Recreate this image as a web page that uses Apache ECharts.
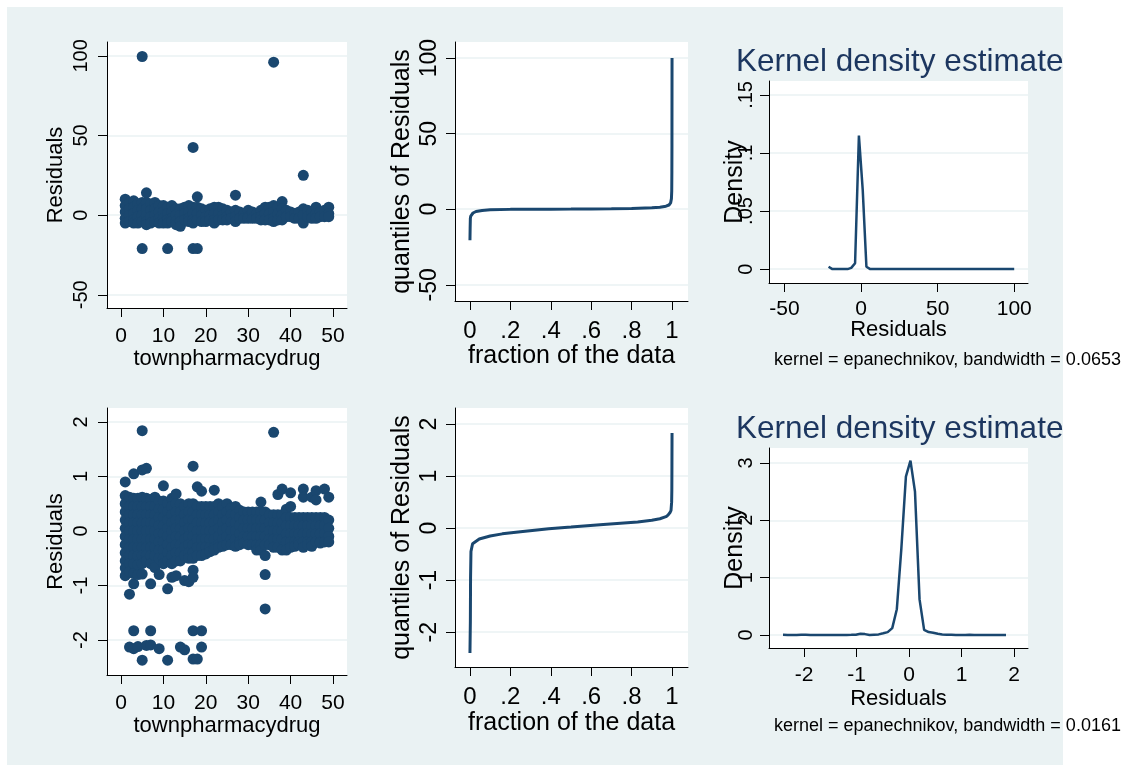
<!DOCTYPE html>
<html>
<head>
<meta charset="utf-8">
<script src="https://cdn.jsdelivr.net/npm/echarts@6/dist/echarts.min.js"></script>
<style>
  html, body { margin: 0; padding: 0; background: #ffffff; }
  #chart { width: 1125px; height: 771px; }
</style>
</head>
<body>
<div id="chart"></div>
<script>
// ---------- data ----------
// town identifiers (x of the residual-vs-town scatter plots)
const towns = [1,2,3,4,5,6,7,8,9,10,11,12,13,14,15,16,17,18,19,20,21,22,23,24,25,
  26,27,28,29,30,31,32,33,34,35,36,37,38,39,40,41,42,43,44,45,46,47,48,49];

// residuals per town, levels model
const residLevels = [
  [10, 6, 2, -2, -5], [8, 4, 0, -4], [9, 5, 1, -3, -5], [7, 3, -1, -5],
  [99.6, 8, 4, 0, -4, -21], [14, 8, 4, 0, -4, -6], [7, 3, -1, -5], [8, 4, 0, -4],
  [6, 2, -2, -5], [6, 2, -2, -5], [5, 1, -3, -5, -21], [6, 2, -2, -4],
  [4, 0, -4, -6], [4, 0, -4, -7], [5, 1, -3], [6, 2, -2, -4],
  [42.5, 5, 1, -3, -5, -21], [11.5, 5, 1, -3, -21], [4, 0, -4], [3, -1, -4],
  [4, 0, -3], [5, 1, -3, -5], [5, 1, -3], [4, 0, -3], [3, -1, -3],
  [2, -2], [12.5, 3, -1, -4], [2, -2], [1, -2], [3, -1, -2],
  [2, -2], [1, -2], [3, -1, -3], [5, 1, -3], [5, 1, -3],
  [96, 6, 2, -2, -4], [5, 1, -3], [8.5, 4, 0, -3], [3, -1], [2, -1],
  [1, -2], [2, -2], [25, 4, 0, -5], [3, -1], [2, -2],
  [5, 1, -2], [2, -1], [3, -1], [5, 1, -1]
];

// residuals per town, log model
const residLogs = [
  [0.9, 0.65, 0.5, 0.35, 0.2, 0.05, -0.1, -0.25, -0.4, -0.55, -0.68, -0.82],
  [0.62, 0.45, 0.3, 0.15, 0, -0.15, -0.3, -0.45, -0.6, -0.75, -1.16, -2.13],
  [1.05, 0.6, 0.45, 0.3, 0.15, 0, -0.15, -0.3, -0.45, -0.6, -0.78, -0.97, -1.83, -2.16],
  [0.6, 0.45, 0.3, 0.15, 0, -0.15, -0.3, -0.45, -0.62, -0.8, -2.12],
  [1.84, 1.12, 0.62, 0.45, 0.3, 0.15, 0, -0.15, -0.3, -0.45, -0.6, -0.79, -2.37],
  [1.15, 0.6, 0.45, 0.3, 0.15, 0, -0.15, -0.3, -0.45, -0.55, -2.1],
  [0.58, 0.45, 0.3, 0.15, 0, -0.15, -0.3, -0.45, -0.6, -0.97, -1.83, -2.09],
  [0.62, 0.45, 0.3, 0.15, 0, -0.15, -0.3, -0.45, -0.67],
  [0.55, 0.4, 0.25, 0.1, -0.05, -0.2, -0.35, -0.5, -0.8, -2.16],
  [0.83, 0.55, 0.4, 0.25, 0.1, -0.05, -0.2, -0.35, -0.5, -0.6],
  [0.5, 0.35, 0.2, 0.05, -0.1, -0.25, -0.4, -0.55, -1.06, -2.37],
  [0.6, 0.45, 0.3, 0.15, 0, -0.15, -0.3, -0.45, -0.6, -0.85],
  [0.68, 0.5, 0.35, 0.2, 0.05, -0.1, -0.25, -0.4, -0.55, -0.82],
  [0.5, 0.35, 0.2, 0.05, -0.1, -0.25, -0.4, -0.55, -2.13],
  [0.45, 0.3, 0.15, 0, -0.15, -0.3, -0.45, -0.91, -2.18],
  [0.5, 0.35, 0.2, 0.05, -0.1, -0.25, -0.4, -0.5, -0.93],
  [1.19, 0.5, 0.35, 0.2, 0.05, -0.1, -0.25, -0.4, -0.5, -0.72, -0.85, -1.83, -2.35],
  [0.81, 0.45, 0.3, 0.15, 0, -0.15, -0.3, -0.45, -2.35],
  [0.73, 0.45, 0.3, 0.15, 0, -0.15, -0.3, -0.45, -1.83, -2.13],
  [0.45, 0.3, 0.15, 0, -0.15, -0.3, -0.42],
  [0.45, 0.3, 0.15, 0, -0.15, -0.3, -0.38],
  [0.75, 0.45, 0.3, 0.15, 0, -0.15, -0.3, -0.35],
  [0.5, 0.35, 0.2, 0.05, -0.1, -0.25, -0.3],
  [0.45, 0.3, 0.15, 0, -0.15, -0.28],
  [0.5, 0.35, 0.2, 0.05, -0.1, -0.25],
  [0.42, 0.3, 0.15, 0, -0.15, -0.25],
  [0.45, 0.3, 0.15, 0, -0.15, -0.28],
  [0.38, 0.25, 0.1, -0.05, -0.2, -0.25],
  [0.35, 0.2, 0.05, -0.1, -0.22],
  [0.35, 0.2, 0.05, -0.1, -0.25],
  [0.35, 0.2, 0.05, -0.1, -0.25],
  [0.35, 0.2, 0.05, -0.1, -0.25, -0.35],
  [0.53, 0.35, 0.2, 0.05, -0.1, -0.25, -0.35],
  [0.35, 0.2, 0.05, -0.1, -0.25, -0.45, -0.8, -1.43],
  [0.3, 0.15, 0, -0.15, -0.25],
  [1.81, 0.3, 0.15, 0, -0.15, -0.3],
  [0.67, 0.3, 0.15, 0, -0.15, -0.3],
  [0.77, 0.3, 0.15, 0, -0.15, -0.35],
  [0.4, 0.25, 0.1, -0.05, -0.2, -0.35],
  [0.7, 0.45, 0.25, 0.1, -0.05, -0.2, -0.3],
  [0.25, 0.1, -0.05, -0.2, -0.28],
  [0.25, 0.1, -0.05, -0.2, -0.25],
  [0.77, 0.62, 0.25, 0.1, -0.05, -0.2, -0.3],
  [0.25, 0.1, -0.05, -0.2, -0.25],
  [0.62, 0.25, 0.1, -0.05, -0.2, -0.28],
  [0.74, 0.57, 0.25, 0.1, -0.05, -0.2],
  [0.25, 0.1, -0.05, -0.2, -0.22],
  [0.77, 0.25, 0.1, -0.05, -0.2],
  [0.62, 0.2, 0.05, -0.1, -0.2]
];

// quantile plots: fraction of the data vs sorted residual
const qLevelsFrac = [0, 0.0005, 0.001, 0.002, 0.004, 0.008, 0.015, 0.03, 0.06, 0.1, 0.2, 0.3, 0.4,
  0.5, 0.6, 0.7, 0.8, 0.9, 0.94, 0.97, 0.985, 0.993, 0.997, 0.9985, 0.9992, 0.9996, 1];
const qLevelsVal = [-20.5, -20.5, -12, -6, -4.5, -3.5, -2.5, -1.5, -0.8, -0.4, -0.1, 0, 0.05,
  0.1, 0.2, 0.3, 0.5, 0.9, 1.3, 2.0, 2.8, 4.2, 7, 12, 25, 43, 100];

const qLogsFrac = [0, 0.001, 0.002, 0.003, 0.005, 0.013, 0.046, 0.1, 0.16, 0.25, 0.39, 0.5,
  0.66, 0.83, 0.9, 0.94, 0.97, 0.98, 0.99, 0.995, 0.998, 0.999, 0.9995, 1];
const qLogsVal = [-2.4, -2.1, -1.8, -0.95, -0.45, -0.3, -0.21, -0.15, -0.11, -0.07, -0.01, 0.02,
  0.07, 0.12, 0.15, 0.18, 0.22, 0.25, 0.3, 0.34, 0.5, 0.73, 1.2, 1.83];

// kernel density estimates
const kdeLevelsX = [-21.2, -18.7, -16.3, -13.8, -11.3, -8.8, -6.4, -3.9, -1.4, 1.1, 3.5, 6.0, 100];
const kdeLevelsY = [0.002, 0, 0, 0, 0, 0, 0.001, 0.005, 0.115, 0.068, 0.002, 0, 0];

const kdeLogsX = [-2.400, -2.313, -2.227, -2.140, -2.053, -1.966, -1.880, -1.793, -1.706, -1.620,
  -1.533, -1.446, -1.359, -1.273, -1.186, -1.099, -1.013, -0.926, -0.839, -0.752,
  -0.666, -0.579, -0.492, -0.406, -0.319, -0.232, -0.146, -0.059, 0.028, 0.114,
  0.201, 0.288, 0.374, 0.461, 0.548, 0.634, 0.721, 0.808, 0.894, 0.981,
  1.068, 1.154, 1.241, 1.328, 1.414, 1.501, 1.588, 1.675, 1.761, 1.848];
const kdeLogsY = [0.002, 0.001, 0, 0, 0.003, 0.002, 0, 0, 0, 0,
  0, 0.001, 0, 0, 0, 0.002, 0.005, 0.02, 0.015, 0,
  0.005, 0.01, 0.03, 0.05, 0.12, 0.45, 1.5, 2.76, 3.04, 2.5,
  0.62, 0.09, 0.05, 0.04, 0.02, 0.01, 0.005, 0.003, 0, 0,
  0, 0.002, 0, 0, 0, 0, 0, 0, 0, 0.001];

// tick values and labels
const townTicks = [0, 10, 20, 30, 40, 50];
const townTickLabels = ['0', '10', '20', '30', '40', '50'];
const levelTicks = [-50, 0, 50, 100];
const levelTickLabels = ['-50', '0', '50', '100'];
const logTicks = [-2, -1, 0, 1, 2];
const logTickLabels = ['-2', '-1', '0', '1', '2'];
const fracTicks = [0, 0.2, 0.4, 0.6, 0.8, 1];
const fracTickLabels = ['0', '.2', '.4', '.6', '.8', '1'];
const densLevelTicks = [0, 0.05, 0.1, 0.15];
const densLevelTickLabels = ['0', '.05', '.1', '.15'];
const densLogTicks = [0, 1, 2, 3];
const densLogTickLabels = ['0', '1', '2', '3'];

const kdeTitle = 'Kernel density estimate';
const kdeNoteLevels = 'kernel = epanechnikov, bandwidth = 0.0653';
const kdeNoteLogs = 'kernel = epanechnikov, bandwidth = 0.0161';

// ---------- styling ----------
const NAVY = '#1a476f';
const PANEL_BG = '#eaf2f3';
const FONT = "'Liberation Sans', Arial, Helvetica, sans-serif";

function pairs(xs, ys) { return xs.map((x, i) => [x, ys[i]]); }
function townPoints(lists) {
  const pts = [];
  towns.forEach((t, i) => lists[i].forEach(v => pts.push([t, v])));
  return pts;
}
function labelFor(ticks, labels) {
  return v => {
    for (let i = 0; i < ticks.length; i++) if (Math.abs(ticks[i] - v) < 1e-9) return labels[i];
    return '';
  };
}

// x axis: s = { label font, label margin, name font, name gap }
function xAxis(gi, min, max, ticks, labels, name, s) {
  return {
    type: 'value', gridIndex: gi, min, max, position: 'bottom',
    name, nameLocation: 'middle', nameGap: s.gap, nameMoveOverlap: false,
    nameTextStyle: { fontFamily: FONT, fontSize: s.nameSize, color: '#000' },
    axisLine: { show: true, onZero: false, lineStyle: { color: '#000', width: 1 } },
    axisTick: { show: true, length: 9, customValues: ticks, lineStyle: { color: '#000', width: 1 } },
    axisLabel: { show: true, customValues: ticks, margin: s.margin, fontFamily: FONT, fontSize: s.size,
      color: '#000', formatter: labelFor(ticks, labels) },
    splitLine: { show: false }
  };
}
function yAxis(gi, min, max, ticks, labels, name, s) {
  return {
    type: 'value', gridIndex: gi, min, max, position: 'left',
    name, nameLocation: 'middle', nameGap: s.gap, nameMoveOverlap: false,
    nameTextStyle: { fontFamily: FONT, fontSize: s.nameSize, color: '#000' },
    axisLine: { show: true, onZero: false, lineStyle: { color: '#000', width: 1 } },
    axisTick: { show: true, length: 9, customValues: ticks, lineStyle: { color: '#000', width: 1 } },
    axisLabel: { show: true, customValues: ticks, rotate: 90, margin: s.margin, fontFamily: FONT,
      fontSize: s.size, color: '#000', formatter: labelFor(ticks, labels) },
    splitLine: { show: true, lineStyle: { color: PANEL_BG, width: 1.5 } }
  };
}
function gridBox(left, top, width, height) {
  return { left, top, width, height, show: true, backgroundColor: '#ffffff', borderWidth: 0 };
}
function titleText(text, left, top, size, color) {
  return { text, left, top, padding: 0,
    textStyle: { fontFamily: FONT, fontSize: size, fontWeight: 'normal', color } };
}

const option = {
  animation: false,
  textStyle: { fontFamily: FONT },
  graphic: [{
    type: 'rect', z: -100, silent: true,
    shape: { x: 7, y: 7, width: 1056, height: 758 },
    style: { fill: PANEL_BG }
  }],
  title: [
    titleText(kdeTitle, 736, 46, 31.5, '#1c365f'),
    titleText(kdeNoteLevels, 774, 351, 18, '#000'),
    titleText(kdeTitle, 736, 413, 31.5, '#1c365f'),
    titleText(kdeNoteLogs, 774, 717, 18, '#000')
  ],
  grid: [
    gridBox(107, 42, 240, 266),
    gridBox(455, 42, 233, 259),
    gridBox(769, 81, 259, 202),
    gridBox(107, 408, 240, 267),
    gridBox(455, 408, 233, 259),
    gridBox(769, 448, 259, 200)
  ],
  xAxis: [
    xAxis(0, -3.3, 53.3, townTicks, townTickLabels, 'townpharmacydrug', { size: 21, margin: 18, nameSize: 22, gap: 40 }),
    xAxis(1, -0.074, 1.079, fracTicks, fracTickLabels, 'fraction of the data', { size: 24, margin: 18, nameSize: 25, gap: 43 }),
    xAxis(2, -60.1, 109, [-50, 0, 50, 100], ['-50', '0', '50', '100'], 'Residuals', { size: 21, margin: 16, nameSize: 22, gap: 36 }),
    xAxis(3, -3.3, 53.3, townTicks, townTickLabels, 'townpharmacydrug', { size: 21, margin: 18, nameSize: 22, gap: 40 }),
    xAxis(4, -0.074, 1.079, fracTicks, fracTickLabels, 'fraction of the data', { size: 24, margin: 18, nameSize: 25, gap: 44 }),
    xAxis(5, -2.667, 2.267, logTicks, logTickLabels, 'Residuals', { size: 21, margin: 17, nameSize: 22, gap: 40 })
  ],
  yAxis: [
    yAxis(0, -58.3, 108.7, levelTicks, levelTickLabels, 'Residuals', { size: 20, margin: 16, nameSize: 22, gap: 40 }),
    yAxis(1, -60.7, 110.6, levelTicks, levelTickLabels, 'quantiles of Residuals', { size: 23, margin: 14, nameSize: 25, gap: 40 }),
    yAxis(2, -0.012, 0.162, densLevelTicks, densLevelTickLabels, 'Density', { size: 20, margin: 13, nameSize: 25, gap: 21 }),
    yAxis(3, -2.642, 2.257, logTicks, logTickLabels, 'Residuals', { size: 20, margin: 16, nameSize: 22, gap: 40 }),
    yAxis(4, -2.67, 2.31, logTicks, logTickLabels, 'quantiles of Residuals', { size: 23, margin: 14, nameSize: 25, gap: 40 }),
    yAxis(5, -0.227, 3.26, densLogTicks, densLogTickLabels, 'Density', { size: 20, margin: 13, nameSize: 25, gap: 21 })
  ],
  series: [
    { type: 'scatter', xAxisIndex: 0, yAxisIndex: 0, data: townPoints(residLevels),
      symbol: 'circle', symbolSize: 11, itemStyle: { color: NAVY, opacity: 1 }, silent: true },
    { type: 'line', xAxisIndex: 1, yAxisIndex: 1, data: pairs(qLevelsFrac, qLevelsVal),
      showSymbol: false, lineStyle: { color: NAVY, width: 3 }, silent: true },
    { type: 'line', xAxisIndex: 2, yAxisIndex: 2, data: pairs(kdeLevelsX, kdeLevelsY),
      showSymbol: false, lineStyle: { color: NAVY, width: 2.5 }, silent: true },
    { type: 'scatter', xAxisIndex: 3, yAxisIndex: 3, data: townPoints(residLogs),
      symbol: 'circle', symbolSize: 11, itemStyle: { color: NAVY, opacity: 1 }, silent: true },
    { type: 'line', xAxisIndex: 4, yAxisIndex: 4, data: pairs(qLogsFrac, qLogsVal),
      showSymbol: false, lineStyle: { color: NAVY, width: 3 }, silent: true },
    { type: 'line', xAxisIndex: 5, yAxisIndex: 5, data: pairs(kdeLogsX, kdeLogsY),
      showSymbol: false, lineStyle: { color: NAVY, width: 2.5 }, silent: true }
  ]
};

const chart = echarts.init(document.getElementById('chart'), null, { renderer: 'canvas' });
chart.setOption(option);
</script>
</body>
</html>
